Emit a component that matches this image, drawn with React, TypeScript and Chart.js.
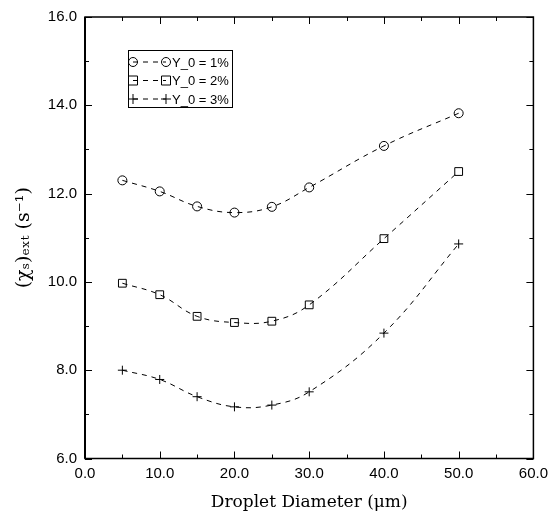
import React, { useEffect, useRef } from "react";
import { Chart, registerables } from "chart.js";

Chart.register(...registerables);

const diameters = [5, 10, 15, 20, 25, 30, 40, 50];
const chiY1 = [12.3, 12.05, 11.71, 11.57, 11.7, 12.14, 13.08, 13.82];
const chiY2 = [9.97, 9.71, 9.22, 9.08, 9.11, 9.48, 10.98, 12.5];
const chiY3 = [8.0, 7.79, 7.4, 7.17, 7.21, 7.51, 8.84, 10.86];
const seriesLabels = ["Y_0 = 1%", "Y_0 = 2%", "Y_0 = 3%"];
const seriesMarkers = ["circle", "rect", "cross"];

const X_MIN = 0, X_MAX = 60, X_STEP = 5, X_LABEL_STEP = 10;
const Y_MIN = 6, Y_MAX = 16, Y_STEP = 1, Y_LABEL_STEP = 2;

function drawMarker(ctx: CanvasRenderingContext2D, style: string, x: number, y: number) {
  ctx.beginPath();
  if (style === "circle") {
    ctx.arc(x, y, 4.5, 0, Math.PI * 2);
  } else if (style === "rect") {
    ctx.rect(x - 4.5, y - 4.5, 9, 9);
  } else {
    ctx.moveTo(x - 5, y);
    ctx.lineTo(x + 5, y);
    ctx.moveTo(x, y - 5);
    ctx.lineTo(x, y + 5);
  }
  ctx.stroke();
}

const framePlugin = {
  id: "frame",
  afterDraw(chart: any) {
    const { ctx, chartArea, scales } = chart;
    const { left, right, top, bottom } = chartArea;
    const xs = scales.x;
    const ys = scales.y;
    ctx.save();
    ctx.strokeStyle = "#000";
    ctx.lineWidth = 1;
    for (let v = X_MIN; v <= X_MAX + 1e-9; v += X_STEP) {
      const px = Math.round(xs.getPixelForValue(v)) + 0.5;
      const len = Math.abs(v % X_LABEL_STEP) < 1e-9 ? 7 : 4;
      ctx.beginPath();
      ctx.moveTo(px, bottom);
      ctx.lineTo(px, bottom - len);
      ctx.moveTo(px, top);
      ctx.lineTo(px, top + len);
      ctx.stroke();
    }
    for (let v = Y_MIN; v <= Y_MAX + 1e-9; v += Y_STEP) {
      const py = Math.round(ys.getPixelForValue(v)) + 0.5;
      const len = Math.abs(v % Y_LABEL_STEP) < 1e-9 ? 7 : 4;
      ctx.beginPath();
      ctx.moveTo(left, py);
      ctx.lineTo(left + len, py);
      ctx.moveTo(right, py);
      ctx.lineTo(right - len, py);
      ctx.stroke();
    }
    ctx.lineWidth = 1.5;
    ctx.strokeRect(left, top, right - left, bottom - top);
    ctx.lineWidth = 2;
    ctx.beginPath();
    ctx.moveTo(left, top);
    ctx.lineTo(left, bottom);
    ctx.stroke();

    // legend
    const bx = left + 43, by = top + 33, bw = 104, bh = 57;
    ctx.lineWidth = 1;
    ctx.strokeRect(bx + 0.5, by + 0.5, bw, bh);
    ctx.font = "13px 'Liberation Sans', Arial, sans-serif";
    ctx.textBaseline = "middle";
    ctx.fillStyle = "#000";
    chart.data.datasets.forEach((ds: any, i: number) => {
      const ry = by + 12 + i * 18.5;
      const x1 = bx + 5, x2 = bx + 38;
      ctx.setLineDash([5, 5]);
      ctx.beginPath();
      ctx.moveTo(x1, ry);
      ctx.lineTo(x2, ry);
      ctx.stroke();
      ctx.setLineDash([]);
      drawMarker(ctx, seriesMarkers[i], x1, ry);
      drawMarker(ctx, seriesMarkers[i], x2, ry);
      ctx.fillText(ds.label, bx + 44, ry + 1);
    });
    ctx.restore();
  },
};

export default function App() {
  const ref = useRef<HTMLCanvasElement | null>(null);
  useEffect(() => {
    if (!ref.current) return;
    const mk = (data: number[], i: number) => ({
      label: seriesLabels[i],
      data: diameters.map((d, k) => ({ x: d, y: data[k] })),
      borderColor: "#000",
      borderWidth: 1,
      borderDash: [5, 5],
      tension: 0.4,
      pointStyle: seriesMarkers[i] === "rect" ? "rect" : seriesMarkers[i] === "cross" ? "cross" : "circle",
      pointRadius: seriesMarkers[i] === "rect" ? 5.5 : 4.5,
      pointBorderColor: "#000",
      pointBorderWidth: 1,
      pointBackgroundColor: "rgba(0,0,0,0)",
      fill: false,
    });
    const chart = new Chart(ref.current, {
      type: "line",
      data: { datasets: [mk(chiY1, 0), mk(chiY2, 1), mk(chiY3, 2)] as any },
      options: {
        animation: false,
        responsive: true,
        maintainAspectRatio: false,
        layout: { padding: { top: 16, right: 19, left: 0, bottom: 0 } },
        plugins: { legend: { display: false }, tooltip: { enabled: false } },
        scales: {
          x: {
            type: "linear",
            min: X_MIN,
            max: X_MAX,
            afterFit: (s: any) => { s.height = 57.5; },
            grid: { display: false, drawTicks: false },
            border: { display: false },
            ticks: {
              stepSize: X_STEP,
              autoSkip: false,
              maxRotation: 0,
              padding: 6,
              color: "#000",
              font: { family: "'Liberation Sans', Arial, sans-serif", size: 15 },
              callback: (v: any) => (Math.abs(v % X_LABEL_STEP) < 1e-9 ? Number(v).toFixed(1) : ""),
            },
            title: {
              display: true,
              text: "Droplet Diameter (μm)",
              color: "#000",
              font: { family: "'DejaVu Serif', serif", size: 17 },
              padding: { top: 0, bottom: 3 },
            },
          },
          y: {
            type: "linear",
            min: Y_MIN,
            max: Y_MAX,
            afterFit: (s: any) => { s.width = 85; },
            grid: { display: false, drawTicks: false },
            border: { display: false },
            ticks: {
              stepSize: Y_STEP,
              autoSkip: false,
              padding: 8,
              color: "#000",
              font: { family: "'Liberation Sans', Arial, sans-serif", size: 15 },
              callback: (v: any) => (Math.abs(v % Y_LABEL_STEP) < 1e-9 ? Number(v).toFixed(1) : ""),
            },
            title: {
              display: true,
              text: "(χₛ)ₑₓₜ (s⁻¹)",
              color: "#000",
              font: { family: "'DejaVu Serif', serif", size: 19 },
              padding: { top: 13, bottom: 0 },
            },
          },
        },
      },
      plugins: [framePlugin],
    });
    return () => chart.destroy();
  }, []);
  return (
    <div style={{ position: "absolute", left: 0, top: 0, width: 554, height: 516, background: "#fff" }}>
      <canvas ref={ref} />
    </div>
  );
}
